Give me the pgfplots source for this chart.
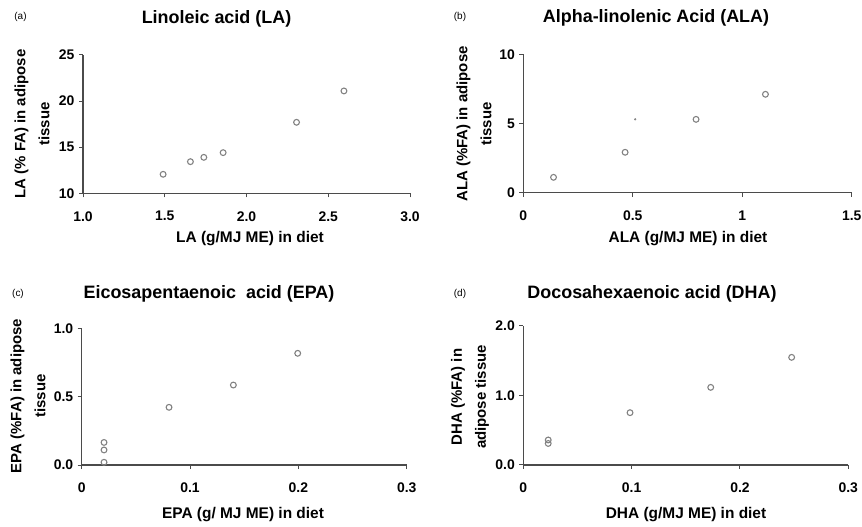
\documentclass[border=0pt]{standalone}
\usepackage{pgfplots}
\pgfplotsset{compat=1.18}
\usepackage{fontspec}
\setmainfont{Liberation Sans}
\definecolor{axc}{RGB}{75,75,75}
\definecolor{mkc}{RGB}{130,130,130}
\pgfplotsset{
 myax/.style={
  scale only axis, anchor=south west,
  axis lines=left, axis line style={-, draw=axc, line width=1.5bp},
  tick align=outside, major tick length=4bp,
  tick style={draw=axc, line width=1bp},
  ticklabel style={font=\fontsize{14}{14}\selectfont\bfseries},
  xticklabel style={yshift=-10.5bp},
  yticklabel style={xshift=-1bp},
  clip=false,
 },
 mk/.style={only marks, mark=o, mark size=2.9bp, mark options={draw=mkc, line width=1.1bp}},
}
\begin{document}
\begin{tikzpicture}
\path[use as bounding box] (0,0) rectangle (862bp,527bp);
% (a)
\begin{axis}[myax, at={(83bp,333.7bp)}, width=327bp, height=138.3bp,
  xmin=1, xmax=3, ymin=10, ymax=25,
  xtick={1,1.5,2,2.5,3}, xticklabels={1.0,1.5,2.0,2.5,3.0},
  ytick={10,15,20,25}, yticklabels={10,15,20,25}]
\addplot[mk] coordinates {(1.49,12.06) (1.657,13.43) (1.739,13.90) (1.857,14.41) (2.306,17.70) (2.596,21.10)};
\end{axis}
% (b)
\begin{axis}[myax, at={(523.3bp,334.3bp)}, width=328.4bp, height=138.4bp,
  xmin=0, xmax=1.5, ymin=0, ymax=10,
  xtick={0,0.5,1,1.5}, xticklabels={0,0.5,1,1.5},
  ytick={0,5,10}, yticklabels={0,5,10}]
\addplot[mk] coordinates {(0.138,1.11) (0.465,2.92) (0.789,5.30) (1.106,7.11)};
\addplot[only marks, mark=*, mark size=0.9bp, mark options={fill=mkc, draw=mkc}] coordinates {(0.511,5.30)};
\end{axis}
% (c)
\begin{axis}[myax, at={(81.7bp,62bp)}, width=325bp, height=136.7bp,
  xmin=0, xmax=0.3, ymin=0, ymax=1,
  xtick={0,0.1,0.2,0.3}, xticklabels={0,0.1,0.2,0.3},
  ytick={0,0.5,1}, yticklabels={0.0,0.5,1.0}]
\addplot[mk] coordinates {(0.0206,0.02) (0.0206,0.11) (0.0206,0.165) (0.0806,0.422) (0.140,0.585) (0.1994,0.817)};
\end{axis}
% (d)
\begin{axis}[myax, at={(523.3bp,62bp)}, width=325bp, height=139bp,
  xmin=0, xmax=0.3, ymin=0, ymax=2,
  xtick={0,0.1,0.2,0.3}, xticklabels={0,0.1,0.2,0.3},
  ytick={0,1,2}, yticklabels={0.0,1.0,2.0}]
\addplot[mk] coordinates {(0.023,0.31) (0.023,0.36) (0.0985,0.753) (0.173,1.117) (0.2477,1.549)};
\end{axis}
% panel letters
\node[font=\fontsize{10}{10}\selectfont] at (20.5bp,509.7bp) {(a)};
\node[font=\fontsize{10}{10}\selectfont] at (460bp,510bp) {(b)};
\node[font=\fontsize{10}{10}\selectfont] at (18bp,233bp) {(c)};
\node[font=\fontsize{10}{10}\selectfont] at (460bp,233bp) {(d)};
% titles
\node[font=\fontsize{18}{18}\selectfont\bfseries] at (216.5bp,508.5bp) {Linoleic acid (LA)};
\node[font=\fontsize{18}{18}\selectfont\bfseries] at (656bp,509bp) {Alpha-linolenic Acid (ALA)};
\node[font=\fontsize{18}{18}\selectfont\bfseries] at (209bp,233bp) {Eicosapentaenoic\ \ acid (EPA)};
\node[font=\fontsize{18}{18}\selectfont\bfseries] at (652bp,233bp) {Docosahexaenoic acid (DHA)};
% y labels
\node[rotate=90, align=center, font=\fontsize{15}{24}\selectfont\bfseries] at (32bp,403bp) {LA (\% FA) in adipose\\tissue};
\node[rotate=90, align=center, font=\fontsize{15}{24}\selectfont\bfseries] at (474bp,403bp) {ALA (\%FA) in adipose\\tissue};
\node[rotate=90, align=center, font=\fontsize{15}{24}\selectfont\bfseries] at (28bp,131bp) {EPA (\%FA) in adipose\\tissue};
\node[rotate=90, align=center, font=\fontsize{15}{24}\selectfont\bfseries] at (470bp,130bp) {DHA (\%FA) in\\adipose tissue};
% x labels
\node[font=\fontsize{15.5}{15.5}\selectfont\bfseries] at (250bp,288bp) {LA (g/MJ ME) in diet};
\node[font=\fontsize{15.5}{15.5}\selectfont\bfseries] at (688bp,288bp) {ALA (g/MJ ME) in diet};
\node[font=\fontsize{15.5}{15.5}\selectfont\bfseries] at (243bp,12bp) {EPA (g/ MJ ME) in diet};
\node[font=\fontsize{15.5}{15.5}\selectfont\bfseries] at (686bp,12bp) {DHA (g/MJ ME) in diet};
\end{tikzpicture}
\end{document}
